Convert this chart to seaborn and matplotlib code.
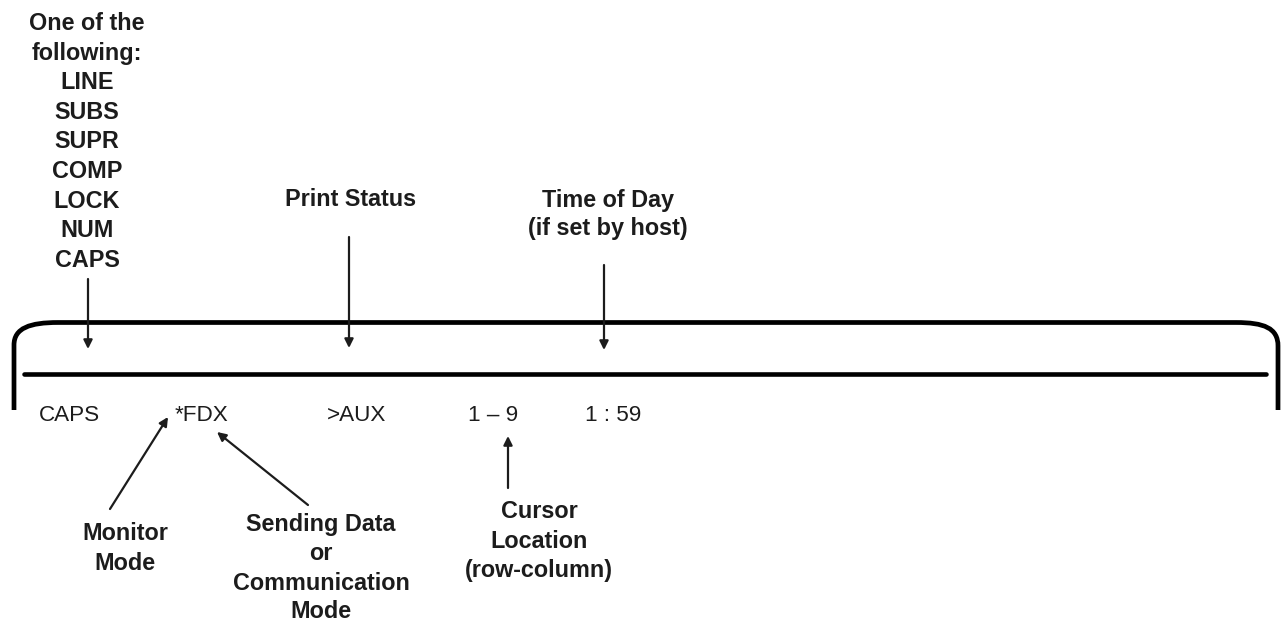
import matplotlib
matplotlib.use("Agg")
import matplotlib.pyplot as plt
from matplotlib.path import Path
from matplotlib.patches import PathPatch
import seaborn as sns

sns.set_theme(style="white")
plt.rcParams['font.family'] = ['Liberation Sans', 'DejaVu Sans']

# ---- text content ----
mode_list_lines = ["One of the", "following:", "LINE", "SUBS", "SUPR", "COMP", "LOCK", "NUM", "CAPS"]
print_status_lines = ["Print Status"]
time_lines = ["Time of Day", "(if set by host)"]
status_items = ["CAPS", "*FDX", ">AUX", "1 \u2013 9", "1 : 59"]
monitor_lines = ["Monitor", "Mode"]
sending_lines = ["Sending Data", "or", "Communication", "Mode"]
cursor_lines = ["Cursor", "Location", "(row-column)"]

# ---- layout (pixel coordinates, y downward) ----
W, H = 1281, 623
label_groups = [
    (mode_list_lines, 87, 30.0, 29.6),
    (print_status_lines, 351, 206.5, 29.0),
    (time_lines, 608, 206.5, 28.5),
    (monitor_lines, 125, 540.5, 30.0),
    (sending_lines, 321, 531.5, 29.0),
    (cursor_lines, 539, 518.5, 29.5),
]
status_x = [39, 175, 327, 468, 585]
status_baseline = 421

arrows_from = [(88, 279), (349, 237), (604, 265), (110, 509), (308, 505), (508, 488)]
arrows_to = [(88, 349), (349, 348), (604, 350), (168, 417), (217, 432), (508, 436)]

inner_line_x = [24, 1266]
inner_line_y = [374, 374]

ink = "#1c1c1c"

fig = plt.figure(figsize=(W / 100, H / 100), dpi=100)
ax = fig.add_axes([0, 0, 1, 1])
ax.set_xlim(0, W)
ax.set_ylim(H, 0)
ax.axis("off")

# bracket-shaped frame
top_y = 322.5
verts = [
    (14, 410), (14, 345),
    (14, 328), (30, top_y), (58, top_y),
    (1236, top_y),
    (1264, top_y), (1278, 328), (1278, 346),
    (1278, 410),
]
codes = [Path.MOVETO, Path.LINETO,
         Path.CURVE4, Path.CURVE4, Path.CURVE4,
         Path.LINETO,
         Path.CURVE4, Path.CURVE4, Path.CURVE4,
         Path.LINETO]
ax.add_patch(PathPatch(Path(verts, codes), fill=False, lw=3.4, edgecolor="black",
                       capstyle="butt", joinstyle="round"))

# inner horizontal rule
sns.lineplot(x=inner_line_x, y=inner_line_y, ax=ax, color="black", lw=3.3, sort=False)

# labels
for lines, x, y0, step in label_groups:
    for i, t in enumerate(lines):
        ax.text(x, y0 + i * step, t, ha="center", va="baseline", fontsize=16.8,
                fontweight="bold", color=ink)

for t, x in zip(status_items, status_x):
    ax.text(x, status_baseline, t, ha="left", va="baseline", fontsize=16.2, color=ink)

# arrows
for (x0, y0), (x1, y1) in zip(arrows_from, arrows_to):
    ax.annotate("", xy=(x1, y1), xytext=(x0, y0),
                arrowprops=dict(arrowstyle="-|>", color=ink, lw=1.6,
                                mutation_scale=13, shrinkA=0, shrinkB=0))

fig.savefig("out.png", dpi=100, facecolor="white")
